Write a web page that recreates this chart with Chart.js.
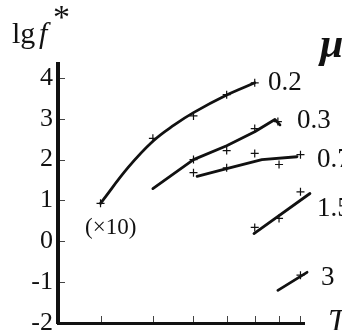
<!DOCTYPE html>
<html>
<head>
<meta charset="utf-8">
<style>
  html, body { margin: 0; padding: 0; background: #fff; }
  #chart { display: block; }
</style>
<script src="https://cdn.jsdelivr.net/npm/chart.js@4.4.0/dist/chart.umd.min.js"></script>
</head>
<body>
<canvas id="chart" width="342" height="330"></canvas>
<script>
// x axis: temperature T (log spaced), y axis: lg f*
var temps = [300, 400, 500, 600, 700, 800, 900]
    , yTicks = [-2, -1, 0, 1, 2, 3, 4]
    , muLabels = ['0.2', '0.3', '0.7', '1.5', '3']

    // fitted curves
    , fit02T = [300, 350, 400, 450, 500, 600, 700]
    , fit02 = [0.93, 1.82, 2.45, 2.85, 3.15, 3.58, 3.88]
    , fit03T = [400, 500, 600, 700, 782, 804]
    , fit03 = [1.29, 2.0, 2.34, 2.68, 2.98, 2.85]
    , fit07T = [510, 600, 728, 883]
    , fit07 = [1.59, 1.78, 2.0, 2.07]
    , fit15T = [697, 948]
    , fit15 = [0.19, 1.17]
    , fit3T = [795, 933]
    , fit3 = [-1.2, -0.76]

    // measured points (+)
    , pts02T = [300, 400, 500, 600, 700]
    , pts02 = [0.93, 2.52, 3.07, 3.59, 3.88]
    , pts03T = [500, 600, 700, 795]
    , pts03 = [2.0, 2.22, 2.76, 2.93]
    , pts07T = [500, 600, 700, 800, 900]
    , pts07 = [1.68, 1.8, 2.15, 1.88, 2.12]
    , pts15T = [700, 800, 900]
    , pts15 = [0.34, 0.56, 1.21]
    , pts3T = [900]
    , pts3 = [-0.83]
;

var serif = "'Liberation Serif', 'Times New Roman', serif"
    , ink = '#111';

function xy(xs, ys) {
    return xs.map(function (x, i) { return { x: x, y: ys[i] }; });
}

function fitSet(label, xs, ys, smooth) {
    return {
        label: label,
        data: xy(xs, ys),
        borderColor: ink,
        borderWidth: 2.8,
        borderCapStyle: 'round',
        borderJoinStyle: 'round',
        pointRadius: 0,
        tension: smooth ? 0.4 : 0,
        fill: false,
        clip: false
    };
}

function ptsSet(label, xs, ys) {
    return {
        label: label,
        data: xy(xs, ys),
        showLine: false,
        pointStyle: 'cross',
        pointRadius: 4,
        pointBorderWidth: 1.2,
        pointBorderColor: ink,
        borderColor: ink,
        clip: false
    };
}

// texts and inward tick marks
var decor = {
    id: 'decor',
    afterDraw: function (chart) {
        var ctx = chart.ctx, ca = chart.chartArea
            , sx = chart.scales.x, sy = chart.scales.y;
        ctx.save();
        ctx.strokeStyle = '#444';
        ctx.lineWidth = 1;
        yTicks.forEach(function (v) {
            if (v <= -2) return;
            var py = Math.round(sy.getPixelForValue(v)) + 0.5;
            ctx.beginPath(); ctx.moveTo(ca.left + 2, py); ctx.lineTo(ca.left + 7, py); ctx.stroke();
        });
        temps.forEach(function (t) {
            var px = Math.round(sx.getPixelForValue(t)) + 0.5;
            ctx.beginPath(); ctx.moveTo(px, ca.bottom - 1); ctx.lineTo(px, ca.bottom - 7); ctx.stroke();
        });

        ctx.fillStyle = ink;
        ctx.textBaseline = 'alphabetic';
        ctx.textAlign = 'left';
        // title of y axis: lg f*
        ctx.font = '30px ' + serif;
        ctx.fillText('lg', 12, 43);
        ctx.font = 'italic 30px ' + serif;
        ctx.fillText('f', 39, 43);
        ctx.font = '34px ' + serif;
        ctx.fillText('*', 53, 28);
        // x axis title
        ctx.font = 'italic 32px ' + serif;
        ctx.fillText('T', 328, 331);
        // mu
        ctx.font = 'bold italic 42px ' + serif;
        ctx.fillText('\u03bc', 320, 57);
        // curve labels
        ctx.font = '27px ' + serif;
        var lab = [[268, 90], [297, 128], [317, 167], [317, 216], [321, 285]];
        muLabels.forEach(function (m, i) { ctx.fillText(m, lab[i][0], lab[i][1]); });
        ctx.font = '23px ' + serif;
        ctx.fillText('(\u00d710)', 85, 234);
        ctx.restore();
    }
};

var config = {
    type: 'line',
    data: {
        datasets: [
            fitSet('0.2', fit02T, fit02, true),
            fitSet('0.3', fit03T, fit03),
            fitSet('0.7', fit07T, fit07),
            fitSet('1.5', fit15T, fit15),
            fitSet('3', fit3T, fit3),
            ptsSet('0.2 pts', pts02T, pts02),
            ptsSet('0.3 pts', pts03T, pts03),
            ptsSet('0.7 pts', pts07T, pts07),
            ptsSet('1.5 pts', pts15T, pts15),
            ptsSet('3 pts', pts3T, pts3)
        ]
    },
    options: {
        responsive: false,
        animation: false,
        devicePixelRatio: 1,
        layout: { padding: { top: 64, right: 38, left: 0, bottom: 0 } },
        plugins: { legend: { display: false }, tooltip: { enabled: false } },
        scales: {
            x: {
                type: 'logarithmic',
                min: 237.5,
                max: 917.6,
                afterBuildTicks: function (s) { s.ticks = temps.map(function (v) { return { value: v }; }); },
                afterFit: function (s) { s.height = 7; s.paddingLeft = 0; s.paddingRight = 0; },
                grid: { display: false },
                border: { display: true, color: ink, width: 3 },
                ticks: { display: false }
            },
            y: {
                type: 'linear',
                min: -2,
                max: 4.34,
                afterBuildTicks: function (s) { s.ticks = yTicks.map(function (v) { return { value: v }; }); },
                afterFit: function (s) { s.width = 58; s.paddingTop = 0; s.paddingBottom = 0; },
                grid: { display: false, drawTicks: false },
                border: { display: true, color: ink, width: 4 },
                ticks: {
                    padding: 5,
                    color: ink,
                    font: { family: serif, size: 26 },
                    callback: function (v) { return String(v); }
                }
            }
        }
    },
    plugins: [decor]
};

var ctx = document.getElementById('chart').getContext('2d');
window.myChart = new Chart(ctx, config);
</script>
</body>
</html>
